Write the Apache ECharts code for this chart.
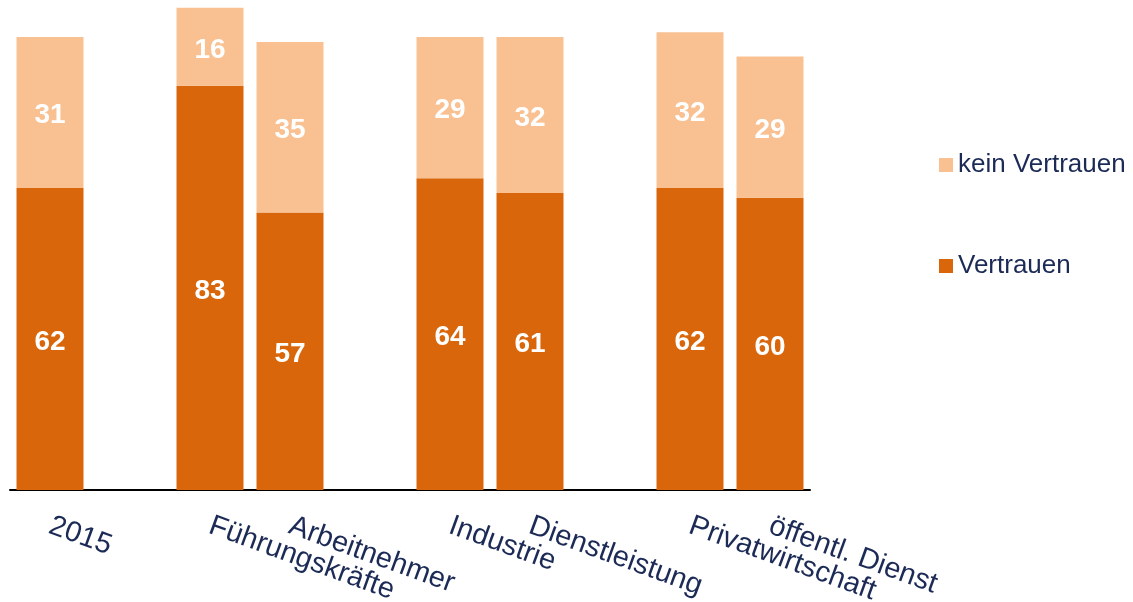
<!DOCTYPE html>
<html>
<head>
<meta charset="utf-8">
<script src="https://cdn.jsdelivr.net/npm/echarts@6/dist/echarts.min.js"></script>
<style>
html,body{margin:0;padding:0;background:#fff;}
#c{width:1133px;height:602px;}
</style>
</head>
<body>
<div id="c"></div>
<script>
const categories = ['2015', '', 'Führungskräfte', 'Arbeitnehmer', '', 'Industrie', 'Dienstleistung', '', 'Privatwirtschaft', 'öffentl. Dienst'];
const vertrauen = [62, '-', 83, 57, '-', 64, 61, '-', 62, 60];
const keinVertrauen = [31, '-', 16, 35, '-', 29, 32, '-', 32, 29];

const chart = echarts.init(document.getElementById('c'));
const font = 'Liberation Sans, Arial, sans-serif';
const navy = '#1c2a56';
const barLabel = { show: true, position: 'inside', offset: [0, 3], color: '#fff', fontWeight: 'bold', fontSize: 28, fontFamily: font };
chart.setOption({
  animation: false,
  grid: { left: 10, right: 323, top: 3, bottom: 112, containLabel: false, outerBoundsMode: 'none' },
  legend: {
    orient: 'vertical', left: 934, top: 147,
    itemWidth: 14, itemHeight: 14, itemGap: 75,
    icon: 'rect',
    textStyle: { fontSize: 26, color: navy, fontFamily: font },
    data: ['kein Vertrauen', 'Vertrauen']
  },
  xAxis: {
    type: 'category', data: categories,
    axisLine: { lineStyle: { color: '#000', width: 2 } },
    axisTick: { show: false },
    axisLabel: { interval: 0, rotate: -20, margin: 35, fontSize: 29, color: navy, fontFamily: font }
  },
  yAxis: { type: 'value', min: 0, max: 100, show: false, splitLine: { show: false } },
  series: [
    { name: 'Vertrauen', type: 'bar', stack: 's', data: vertrauen, barWidth: 67,
      itemStyle: { color: '#d9660a' }, label: barLabel },
    { name: 'kein Vertrauen', type: 'bar', stack: 's', data: keinVertrauen, barWidth: 67,
      itemStyle: { color: '#f9c191' }, label: barLabel }
  ]
});
</script>
</body>
</html>
